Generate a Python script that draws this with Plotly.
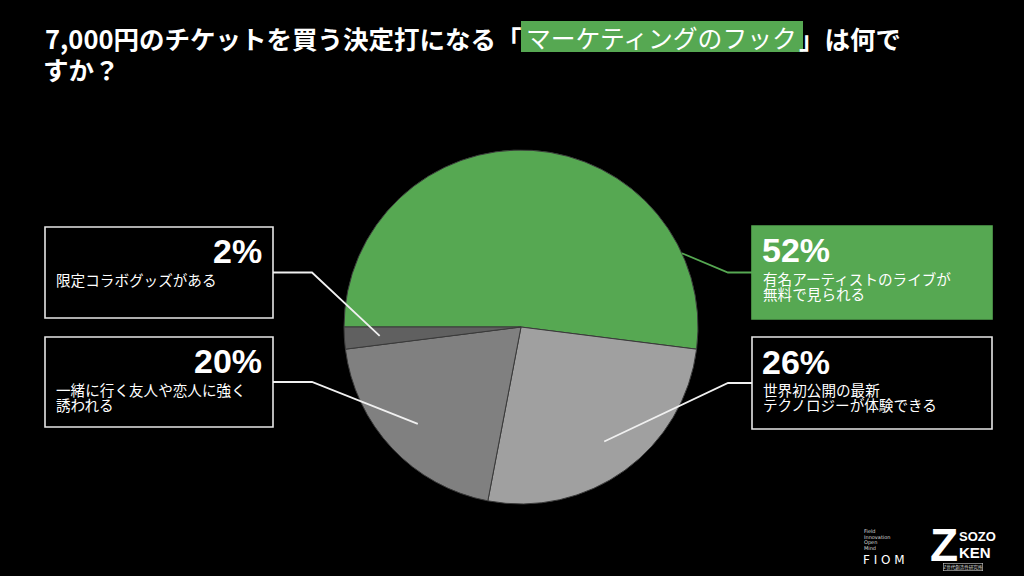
import math
import plotly.graph_objects as go

# ---------------- data ----------------
labels = ["有名アーティストのライブが無料で見られる",
          "世界初公開の最新テクノロジーが体験できる",
          "一緒に行く友人や恋人に強く誘われる",
          "限定コラボグッズがある"]
values = [52, 26, 20, 2]
pct_text = ["52%", "26%", "20%", "2%"]
desc_lines = [["有名アーティストのライブが", "無料で見られる"],
              ["世界初公開の最新", "テクノロジーが体験できる"],
              ["一緒に行く友人や恋人に強く", "誘われる"],
              ["限定コラボグッズがある"]]
slice_colors = ["#56a852", "#a0a0a0", "#808080", "#606060"]
title_a = "7,000円のチケットを買う決定打になる「"
title_b = "マーケティングのフック"
title_c = "」は何で"
title_d = "すか？"

# ---------------- layout helpers ----------------
W, H = 1024, 576
def fx(x): return x / W
def fy(y): return 1 - y / H

GREEN = "#56a852"
cx, cy, R = 521, 327, 177

fig = go.Figure()
fig.add_trace(go.Pie(
    labels=labels, values=values, sort=False, direction="clockwise",
    rotation=270, textinfo="none", hoverinfo="label+percent",
    marker=dict(colors=slice_colors, line=dict(color="#3a3a3a", width=1)),
    domain=dict(x=[fx(cx - R), fx(cx + R)], y=[fy(cy + R), fy(cy - R)]),
    showlegend=False,
))

shapes = []
annotations = []

# boxes: (x0, y0, x1, y1, side, fill, anchor fraction in slice, radius frac)
boxes = [
    (752, 226, 992, 319, "right", True, 0.83, 1.0),
    (752, 337, 992, 429, "right", False, 0.5, 0.8),
    (45, 337, 273, 427, "left", False, 0.5, 0.8),
    (45, 227, 273, 318, "left", False, 0.5, 0.8),
]

total = sum(values)
cum = 0
for i, v in enumerate(values):
    x0, y0, x1, y1, side, filled, frac, rf = boxes[i]
    shapes.append(dict(type="rect", xref="paper", yref="paper",
                       x0=fx(x0), x1=fx(x1), y0=fy(y1), y1=fy(y0),
                       line=dict(color=GREEN if filled else "#e6e6e6", width=1.6),
                       fillcolor=GREEN if filled else "rgba(0,0,0,0)"))
    # leader line
    ang = math.radians(180 - 360 * (cum + frac * v) / total)
    ex = cx + rf * R * math.cos(ang)
    ey = cy - rf * R * math.sin(ang)
    ym = (y0 + y1) / 2
    if side == "left":
        bx, elbow = x1, 312
    else:
        bx, elbow = x0, 728
    lc = GREEN if filled else "#f0f0f0"
    shapes.append(dict(type="path", xref="paper", yref="paper",
                       path=f"M {fx(bx)},{fy(ym)} L {fx(elbow)},{fy(ym)} L {fx(ex)},{fy(ey)}",
                       line=dict(color=lc, width=1.8)))
    cum += v

    # texts
    if side == "right":
        annotations.append(dict(x=fx(760), y=fy(y0 + 24.5), xref="paper", yref="paper",
                                text=pct_text[i], showarrow=False, xanchor="left", yanchor="middle",
                                font=dict(family="Liberation Sans", size=34, color="white", weight="bold")))
        lx, xa = 761, "left"
    else:
        annotations.append(dict(x=fx(264), y=fy(y0 + 24), xref="paper", yref="paper",
                                text=pct_text[i], showarrow=False, xanchor="right", yanchor="middle",
                                font=dict(family="Liberation Sans", size=34, color="white", weight="bold")))
        lx, xa = 54, "left"
    for j, line in enumerate(desc_lines[i]):
        annotations.append(dict(x=fx(lx), y=fy(y0 + 52 + 15 * j), xref="paper", yref="paper",
                                text=line, showarrow=False, xanchor=xa, yanchor="middle",
                                font=dict(family="Noto Sans CJK JP", size=14.6, color="white")))

# title with highlight
shapes.append(dict(type="rect", xref="paper", yref="paper",
                   x0=fx(521), x1=fx(803), y0=fy(52), y1=fy(21),
                   line=dict(width=0), fillcolor=GREEN, layer="below"))
tfont = dict(family="Noto Sans CJK JP", size=25.5, color="white", weight="bold")
annotations.append(dict(x=fx(523), y=fy(37), xref="paper", yref="paper", text=title_a,
                        showarrow=False, xanchor="right", yanchor="middle", font=tfont))
annotations.append(dict(x=fx(661), y=fy(37), xref="paper", yref="paper", text=title_b,
                        showarrow=False, xanchor="center", yanchor="middle",
                        font=dict(family="Noto Sans CJK JP", size=24.8, color="white")))
annotations.append(dict(x=fx(797), y=fy(37), xref="paper", yref="paper", text=title_c,
                        showarrow=False, xanchor="left", yanchor="middle", font=tfont))
annotations.append(dict(x=fx(41), y=fy(69), xref="paper", yref="paper", text=title_d,
                        showarrow=False, xanchor="left", yanchor="middle", font=tfont))

# logos
for j, w in enumerate(["Field", "Innovation", "Open", "Mind"]):
    annotations.append(dict(x=fx(862), y=fy(531 + 5.7 * j), xref="paper", yref="paper", text=w,
                            showarrow=False, xanchor="left", yanchor="middle",
                            font=dict(family="DejaVu Sans", size=5, color="#dddddd")))
annotations.append(dict(x=fx(861), y=fy(560), xref="paper", yref="paper", text="F I O M",
                        showarrow=False, xanchor="left", yanchor="middle",
                        font=dict(family="DejaVu Sans", size=12, color="white")))
annotations.append(dict(x=fx(944), y=fy(545), xref="paper", yref="paper", text="Z",
                        showarrow=False, xanchor="center", yanchor="middle",
                        font=dict(family="Liberation Sans", size=46, color="white", weight="bold")))
annotations.append(dict(x=fx(957), y=fy(536), xref="paper", yref="paper", text="SOZO",
                        showarrow=False, xanchor="left", yanchor="middle",
                        font=dict(family="Liberation Sans", size=13, color="white", weight="bold")))
annotations.append(dict(x=fx(957), y=fy(552), xref="paper", yref="paper", text="KEN",
                        showarrow=False, xanchor="left", yanchor="middle",
                        font=dict(family="Liberation Sans", size=15, color="white", weight="bold")))
annotations.append(dict(x=fx(963), y=fy(567), xref="paper", yref="paper", text="Z世代創造性研究所",
                        showarrow=False, xanchor="center", yanchor="middle",
                        bordercolor="#cccccc", borderwidth=0.6, borderpad=0,
                        font=dict(family="Noto Sans CJK JP", size=4.5, color="#dddddd")))

fig.update_layout(
    width=W, height=H, margin=dict(l=0, r=0, t=0, b=0),
    paper_bgcolor="black", plot_bgcolor="black",
    shapes=shapes, annotations=annotations,
)
fig.write_html("out.html", config={"displayModeBar": False},
               post_script="document.body.style.margin='0';document.body.style.background='black';document.body.style.overflow='hidden';")
